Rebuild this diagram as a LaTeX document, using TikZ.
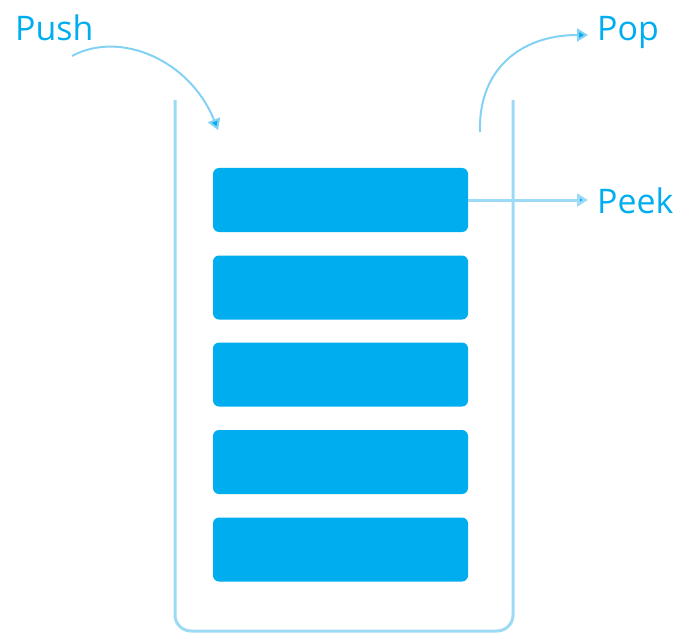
\documentclass[tikz,border=0pt]{standalone}
\usepackage{fontspec}
\setmainfont{Open Sans}
\usetikzlibrary{arrows.meta}

\definecolor{stackblue}{HTML}{00AEEF}
\definecolor{wallblue}{HTML}{9DDAF5}
\definecolor{flowblue}{HTML}{84D2F3}

\tikzset{
  item/.style={fill=stackblue, draw=none, rounded corners=6bp, minimum width=255bp, minimum height=64bp, inner sep=0pt},
  opname/.style={anchor=base west, inner sep=0pt, text=stackblue, font=\fontsize{34}{38}\selectfont},
  flow/.style={draw=flowblue, line width=2bp, -{Triangle[width=13bp,length=11bp,fill=stackblue]}}
}

\begin{document}
\begin{tikzpicture}[x=1bp, y=-1bp]
\useasboundingbox (0,0) rectangle (679,635);
% the container
\draw[wallblue, line width=3bp, rounded corners=16bp] (175,100) -- (175,631) -- (513,631) -- (513,100);
% stack items
\node[item] (bar1) at (340.5,200) {};
\node[item] (bar2) at (340.5,287.5) {};
\node[item] (bar3) at (340.5,374.5) {};
\node[item] (bar4) at (340.5,462) {};
\node[item] (bar5) at (340.5,549.5) {};
% operations
\node[opname] (push) at (15,41) {Push};
\node[opname] (pop) at (597,41) {Pop};
\node[opname] (peek) at (597,213) {Peek};
\coordinate (pushfrom) at (72,56);
\coordinate (pushto) at (218,130);
\coordinate (popfrom) at (480,132);
\coordinate (popto) at (588,35);
\coordinate (peekto) at (588,200);
\draw[flow] (pushfrom) .. controls (120,30) and (190,60) .. (pushto);
\draw[flow] (popfrom) .. controls (478,70) and (520,35) .. (popto);
\draw[flow, draw=wallblue, line width=3bp] (bar1.east) -- (peekto);
\end{tikzpicture}
\end{document}
